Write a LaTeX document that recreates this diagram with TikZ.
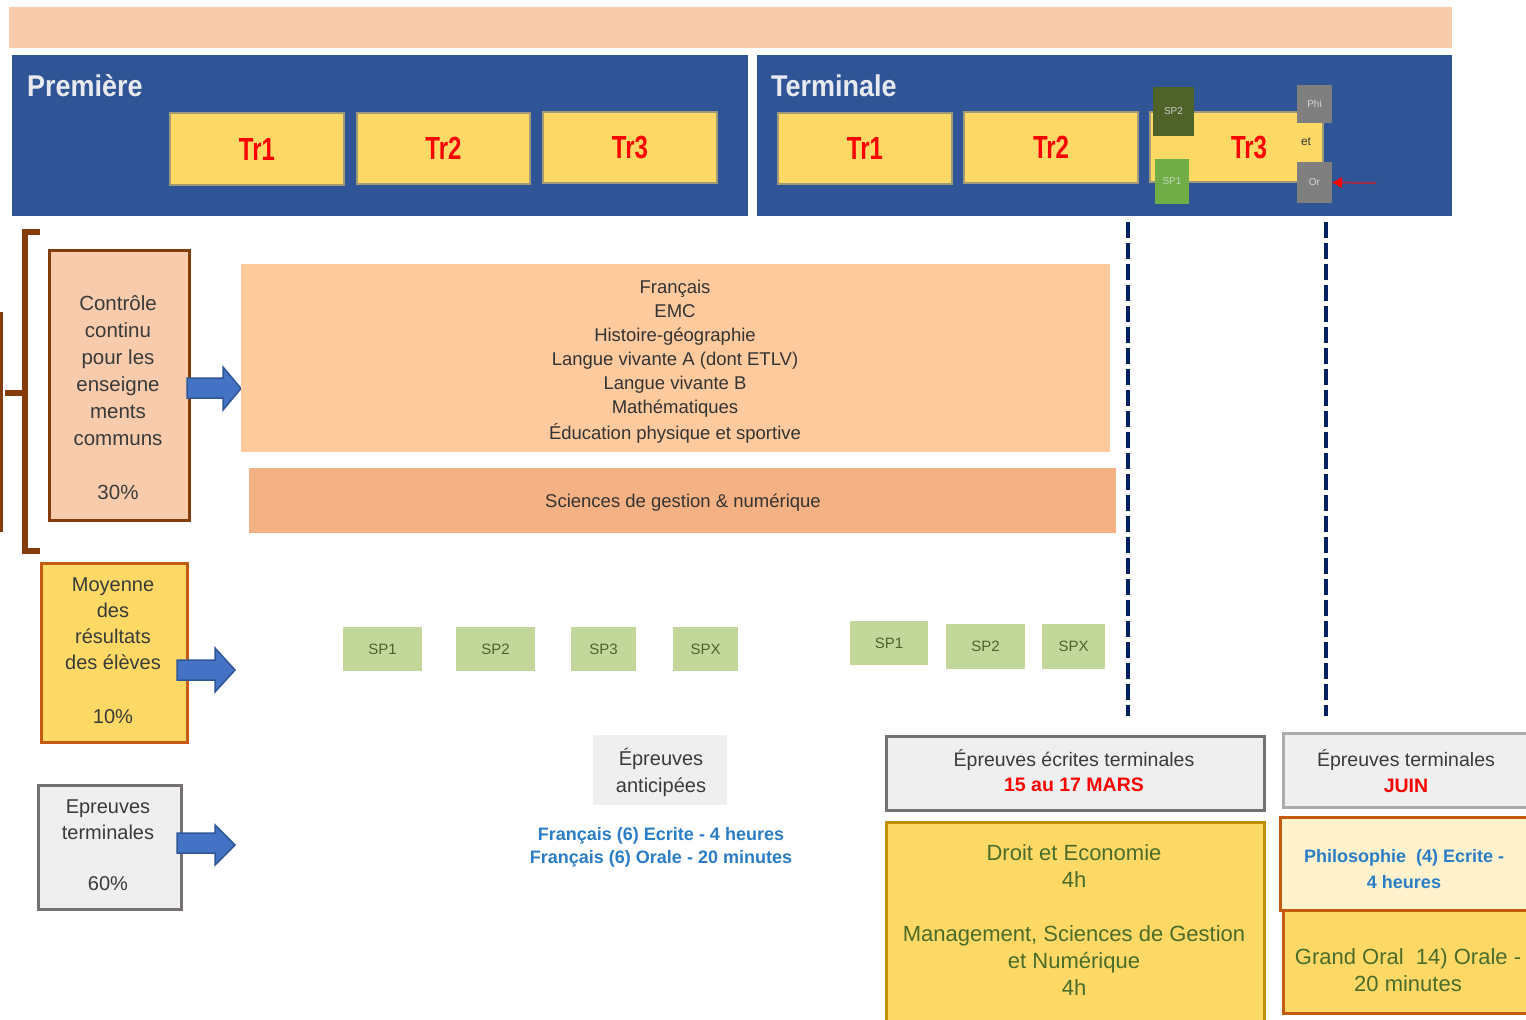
\documentclass[tikz,border=0pt]{standalone}
\usepackage{fontspec}
\setmainfont{Liberation Sans}
\usepackage{graphicx}
\usetikzlibrary{fit,arrows.meta}
\definecolor{topbar}{HTML}{F8CBAD}
\definecolor{panel}{HTML}{2F5597}
\definecolor{tryel}{HTML}{FFD966}
\definecolor{trborder}{HTML}{A09A78}
\definecolor{sptwodark}{HTML}{4F6228}
\definecolor{sponegreen}{HTML}{70AD47}
\definecolor{phigray}{HTML}{7F7F7F}
\definecolor{navyline}{HTML}{002060}
\definecolor{brownb}{HTML}{843C0C}
\definecolor{peachbox}{HTML}{F8CBAD}
\definecolor{bigpeach}{HTML}{FFCA9D}
\definecolor{sciencesc}{HTML}{F4B183}
\definecolor{orangeb}{HTML}{C55A11}
\definecolor{spgreen}{HTML}{C4D79B}
\definecolor{sptext}{HTML}{4F6228}
\definecolor{boxgray}{HTML}{EFEFEF}
\definecolor{grayborder}{HTML}{767171}
\definecolor{lgrayborder}{HTML}{AEAAAA}
\definecolor{droitborder}{HTML}{BF9000}
\definecolor{lightyel}{HTML}{FFF2CC}
\definecolor{bluetext}{HTML}{2A7DC6}
\definecolor{greentext}{HTML}{4A6B2A}
\definecolor{arrowfill}{HTML}{4472C4}
\definecolor{arrowborder}{HTML}{2F5597}
\definecolor{darktext}{HTML}{3A3A3A}
\definecolor{titletext}{HTML}{E8EAF0}
\definecolor{redline}{HTML}{A0304A}
\newcommand\fs[2]{\fontsize{#1}{#2}\selectfont}
\newcommand\narrow[1]{\scalebox{0.75}[1]{#1}}
\begin{document}
\begin{tikzpicture}[x=1pt,y=-1pt,
  box/.style={inner sep=0pt, outer sep=0pt},
  lbl/.style={inner sep=0pt, align=center, text=darktext},
  trbox/.style={box, fill=tryel, draw=trborder, line width=1.5pt},
  trtext/.style={inner sep=0pt, text=red, font=\fs{32}{32}\bfseries},
  spbox/.style={box, fill=spgreen},
  sptxt/.style={inner sep=0pt, text=sptext, font=\fs{15}{15}},
  tinybox/.style={box},
  blockarrow/.style={fill=arrowfill, draw=arrowborder, line width=1.5pt, line join=miter},
  dashline/.style={navyline, line width=4pt, dash pattern=on 16pt off 5pt},
  title/.style={inner sep=0pt, anchor=west, text=titletext, font=\fs{30}{30}\bfseries}
]
\useasboundingbox (0,0) rectangle (1526,1020);
\clip (0,0) rectangle (1526,1020);
\fill[white] (0,0) rectangle (1526,1020);

% top bar and panels
\node[box, fill=topbar, fit={(9,7) (1452,48)}] (topbar) {};
\node[box, fill=panel, fit={(12,55) (748,216)}] (premiere) {};
\node[box, fill=panel, fit={(757,55) (1452,216)}] (terminale) {};
\node[title] (tprem) at (27,86) {\scalebox{0.9}[1]{Première}};
\node[title] (tterm) at (771,86) {\scalebox{0.9}[1]{Terminale}};

% Première Tr boxes
\node[trbox, fit={(170,113) (344,185)}] (ptr1) {};
\node[trtext] (ptr1t) at (ptr1.center) {\narrow{Tr1}};
\node[trbox, fit={(357,113) (530,184)}] (ptr2) {};
\node[trtext] (ptr2t) at (ptr2.center) {\narrow{Tr2}};
\node[trbox, fit={(543,112) (717,183)}] (ptr3) {};
\node[trtext] (ptr3t) at (ptr3.center) {\narrow{Tr3}};

% Terminale Tr boxes
\node[trbox, fit={(778,113) (952,184)}] (ttr1) {};
\node[trtext] (ttr1t) at (ttr1.center) {\narrow{Tr1}};
\node[trbox, fit={(964,112) (1138,183)}] (ttr2) {};
\node[trtext] (ttr2t) at (ttr2.center) {\narrow{Tr2}};
\node[trbox, fit={(1150,112) (1323,182)}] (ttr3) {};
\node[trtext] (ttr3t) at (1249,148) {\narrow{Tr3}};
\node[tinybox, fill=sptwodark, fit={(1153,87) (1194,136)}] (sptwo) {};
\node[inner sep=0pt, text=titletext!80!sptwodark, font=\fs{10}{10}] (sptwot) at (sptwo.center) {SP2};
\node[tinybox, fill=sponegreen, fit={(1155,159) (1189,204)}] (spone) {};
\node[inner sep=0pt, text=titletext!70!sponegreen, font=\fs{10}{10}] (sponet) at (spone.center) {SP1};
\node[tinybox, fill=phigray, fit={(1297,85) (1332,123)}] (phi) {};
\node[inner sep=0pt, text=titletext!80!phigray, font=\fs{10}{10}] (phit) at (phi.center) {Phi};
\node[tinybox, fill=phigray, fit={(1297,162) (1332,203)}] (orb) {};
\node[inner sep=0pt, text=titletext!80!phigray, font=\fs{10}{10}] (ort) at (orb.center) {Or};
\node[inner sep=0pt, text=darktext, font=\fs{12}{12}] (et) at (1306,142) {et};
\coordinate (rarr) at (1376,183);
\draw[redline, line width=2pt, -{Triangle[color=red, length=10pt, width=10pt]}] (rarr) -- (orb.east);

% dashed vertical lines
\coordinate (d1a) at (1128,222); \coordinate (d1b) at (1128,716);
\coordinate (d2a) at (1326,222); \coordinate (d2b) at (1326,716);
\draw[dashline] (d1a) -- (d1b);
\draw[dashline] (d2a) -- (d2b);

% bracket
\draw[brownb, line width=6pt, line join=miter] (40,232) -- (25,232) -- (25,551) -- (40,551);
\draw[brownb, line width=6pt] (25,393) -- (5,393);
\draw[brownb, line width=3pt] (1.5,312) -- (1.5,532);

% Contrôle continu
\node[box, fill=peachbox, draw=brownb, line width=3pt, fit={(49,250) (189,520)}] (cc) {};
\node[lbl, font=\fs{20.5}{27}] (cct) at (118,398) {Contrôle\\continu\\pour les\\enseigne\\ments\\communs\\[27pt]30\%};
\draw[blockarrow] (187,378) -- (223,378) -- (223,367) -- (241,388.5) -- (223,410) -- (223,398) -- (187,398) -- cycle;

\node[box, fill=bigpeach, fit={(241,264) (1110,452)}] (common) {};
\node[lbl, text=black!80, font=\fs{18.5}{24}] (commont) at (675,362) {Français\\EMC\\Histoire-géographie\\Langue vivante A (dont ETLV)\\Langue vivante B\\Mathématiques\\[2pt]Éducation physique et sportive};
\node[box, fill=sciencesc, fit={(249,468) (1116,533)}] (sgn) {};
\node[lbl, text=black!80, font=\fs{18.5}{24}] (sgnt) at (683,503) {Sciences de gestion \& numérique};

% Moyenne
\node[box, fill=tryel, draw=orangeb, line width=3pt, fit={(41,563) (187,742)}] (moy) {};
\node[lbl, font=\fs{20}{26}] (moyt) at (113,651) {Moyenne\\des\\résultats\\des élèves\\[28pt]10\%};
\draw[blockarrow] (177,660) -- (215,660) -- (215,648) -- (235,670) -- (215,692) -- (215,680) -- (177,680) -- cycle;

% SP boxes
\node[spbox, fit={(343,627) (422,671)}] (psp1) {};
\node[sptxt] (psp1t) at (psp1.center) {SP1};
\node[spbox, fit={(456,627) (535,671)}] (psp2) {};
\node[sptxt] (psp2t) at (psp2.center) {SP2};
\node[spbox, fit={(571,627) (636,671)}] (psp3) {};
\node[sptxt] (psp3t) at (psp3.center) {SP3};
\node[spbox, fit={(673,627) (738,671)}] (pspx) {};
\node[sptxt] (pspxt) at (pspx.center) {SPX};
\node[spbox, fit={(850,621) (928,665)}] (tsp1) {};
\node[sptxt] (tsp1t) at (tsp1.center) {SP1};
\node[spbox, fit={(946,624) (1025,669)}] (tsp2) {};
\node[sptxt] (tsp2t) at (tsp2.center) {SP2};
\node[spbox, fit={(1042,624) (1105,669)}] (tspx) {};
\node[sptxt] (tspxt) at (tspx.center) {SPX};

% Epreuves terminales (left)
\node[box, fill=boxgray, draw=grayborder, line width=3pt, fit={(38,785) (181,909)}] (ept) {};
\node[lbl, font=\fs{20}{26}] (eptt) at (108,845) {Epreuves\\terminales\\[25pt]60\%};
\draw[blockarrow] (177,833) -- (215,833) -- (215,825) -- (235,845) -- (215,865) -- (215,853) -- (177,853) -- cycle;

% Epreuves anticipées
\node[box, fill=boxgray, fit={(593,735) (727,805)}] (anti) {};
\node[lbl, font=\fs{20}{27}] (antit) at (661,772) {Épreuves\\anticipées};
\node[lbl, text=bluetext, font=\fs{18}{23}\bfseries] (fr) at (661,847) {Français (6) Ecrite - 4 heures\\Français (6) Orale - 20 minutes};

% Epreuves écrites terminales
\node[box, fill=boxgray, draw=grayborder, line width=3pt, fit={(886,736) (1264,810)}] (ecr) {};
\node[lbl, font=\fs{19.5}{25}] (ecrt) at (1074,771) {Épreuves écrites terminales\\{\color{red}\bfseries 15 au 17 MARS}};
\node[box, fill=tryel, draw=droitborder, line width=3pt, fit={(886,822) (1264,1035)}] (droit) {};
\node[lbl, text=greentext, font=\fs{22}{27}] (droitt) at (1074,920) {Droit et Economie\\4h\\[27pt]Management, Sciences de Gestion\\et Numérique\\4h};

% Epreuves terminales JUIN
\node[box, fill=boxgray, draw=lgrayborder, line width=3pt, fit={(1283,733) (1535,807)}] (juin) {};
\node[lbl, font=\fs{19.5}{26}] (juint) at (1406,771) {Épreuves terminales\\{\color{red}\bfseries JUIN}};
\node[box, fill=lightyel, draw=orangeb, line width=3pt, fit={(1280,817) (1535,910)}] (philo) {};
\node[lbl, text=bluetext, font=\fs{18}{26}\bfseries] (philot) at (1404,869) {Philosophie\ \ (4) Ecrite -\\4 heures};
\node[box, fill=tryel, draw=orangeb, line width=3pt, fit={(1283,910) (1535,1013)}] (oral) {};
\node[lbl, text=greentext, font=\fs{22}{27}] (oralt) at (1408,970) {Grand Oral\ \ 14) Orale -\\20 minutes};
\end{tikzpicture}
\end{document}
